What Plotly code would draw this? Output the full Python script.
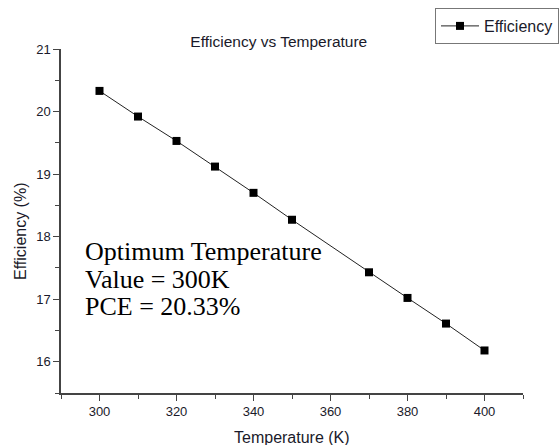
import plotly.graph_objects as go

temperature = [300, 310, 320, 330, 340, 350, 370, 380, 390, 400]
efficiency = [20.33, 19.92, 19.53, 19.12, 18.70, 18.27, 17.43, 17.02, 16.61, 16.18]
x_ticks = [300, 320, 340, 360, 380, 400]
y_ticks = [16, 17, 18, 19, 20, 21]
note_lines = ["Optimum Temperature", "Value = 300K", "PCE = 20.33%"]

W, H = 560, 445
L, R, T, B = 61, 37, 49, 52
pw, ph = W - L - R, H - T - B


def px_x(p):
    return (p - L) / pw


def px_y(p):
    return (H - B - p) / ph


fig = go.Figure()
fig.add_trace(go.Scatter(
    x=temperature, y=efficiency, mode="lines+markers", name="Efficiency",
    line=dict(color="#222222", width=1),
    marker=dict(symbol="square", size=8, color="#000000"),
))

sans = "Liberation Sans, Arial, sans-serif"
axis_common = dict(
    showgrid=False, zeroline=False, showline=True, linecolor="#444444", linewidth=1.5,
    ticks="outside", ticklen=6, tickwidth=1.2, tickcolor="#444444",
    tickfont=dict(family=sans, size=13, color="#1a1a2a"),
)
fig.update_xaxes(range=[290, 410], tickvals=x_ticks,
                 minor=dict(ticks="outside", ticklen=4, dtick=10, tick0=290, tickcolor="#444444"),
                 **axis_common)
fig.update_yaxes(range=[15.5, 21], tickvals=y_ticks,
                 minor=dict(ticks="outside", ticklen=4, dtick=0.5, tick0=15.5, tickcolor="#444444"),
                 **axis_common)

annotations = [
    dict(text="Temperature (K)", xref="paper", yref="paper", x=px_x(292), y=px_y(437),
         xanchor="center", yanchor="middle", showarrow=False,
         font=dict(family=sans, size=16, color="#1a1a2a")),
    dict(text="Efficiency (%)", xref="paper", yref="paper", x=px_x(20), y=px_y(231),
         xanchor="center", yanchor="middle", showarrow=False, textangle=-90,
         font=dict(family=sans, size=16, color="#1a1a2a")),
]
for line, yc in zip(note_lines, [252, 279, 306]):
    annotations.append(dict(text=line, xref="paper", yref="paper", x=px_x(83), y=px_y(yc),
                            xanchor="left", yanchor="middle", showarrow=False,
                            font=dict(family="Liberation Serif, Times New Roman, serif", size=26,
                                      color="#000000")))

fig.update_layout(
    width=W, height=H,
    margin=dict(l=L, r=R, t=T, b=B, autoexpand=False),
    paper_bgcolor="white", plot_bgcolor="white",
    title=dict(text="Efficiency vs Temperature", x=px_x(291), xanchor="center",
               y=1 - 42 / H, yanchor="middle",
               font=dict(family=sans, size=15.5, color="#1a1a2a")),
    showlegend=True,
    legend=dict(x=px_x(559), y=px_y(8), xanchor="right", yanchor="top",
                itemwidth=38,
                bordercolor="#777777", borderwidth=1, bgcolor="white",
                font=dict(family=sans, size=16, color="#1a1a2a")),
    annotations=annotations,
)

fig.write_html("out.html")
